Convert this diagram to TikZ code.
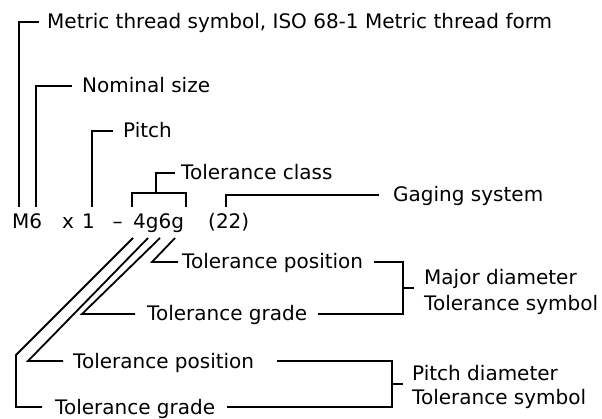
\documentclass[tikz,border=0pt]{standalone}
\usepackage{fontspec}
\setmainfont{DejaVu Sans}
\usetikzlibrary{positioning}

\begin{document}
\begin{tikzpicture}[
        x=1pt, y=-1pt,
        txt/.style={inner sep=0pt, anchor=west, text height=14pt, text depth=0pt,
            font=\fontsize{20}{24}\selectfont},
        lead/.style={line width=1.8pt, line cap=butt, line join=miter}
    ]
    \useasboundingbox (0,0) rectangle (602,419);

    % Callouts
    \node[txt] (metric) at (47,22) {Metric thread symbol, ISO 68-1 Metric thread form};
    \node[txt] (nominal) at (82,86) {Nominal size};
    \node[txt] (pitch) at (123,131) {Pitch};
    \node[txt] (tclass) at (181,173) {Tolerance class};
    \node[txt] (gaging) at (393,195) {Gaging system};

    % Designation
    \node[txt] (m6) at (12,222) {M6};
    \node[txt] (times) at (62,222) {x};
    \node[txt] (one) at (82,222) {1};
    \node[txt, anchor=center] (dash) at (117.5,222) {--};
    \node[txt] (tol) at (133,222) {4g6g};
    \node[txt] (gage) at (208,222) {(22)};

    % Tolerance parts
    \node[txt] (mpos) at (182,262) {Tolerance position};
    \node[txt] (mgrade) at (147,314) {Tolerance grade};
    \node[txt] (ppos) at (73,361) {Tolerance position};
    \node[txt] (pgrade) at (55,407) {Tolerance grade};
    \node[txt] (majora) at (424,278) {Major diameter};
    \node[txt, below right=11pt and 0pt of majora.south west] (majorb) {Tolerance symbol};
    \node[txt] (pitcha) at (412,373) {Pitch diameter};
    \node[txt, below right=10pt and 0pt of pitcha.south west] (pitchb) {Tolerance symbol};

    % Leader points
    \coordinate (cM) at (19,207);
    \coordinate (cN) at (36,207);
    \coordinate (cP) at (92,207);
    \coordinate (cTl) at (132,207);
    \coordinate (cTr) at (186,207);
    \coordinate (cTbar) at (156,193);
    \coordinate (cG) at (226,207);
    \coordinate (d1) at (133,238);
    \coordinate (d2) at (148,238);
    \coordinate (d3) at (160,238);
    \coordinate (d4) at (175,238);
    \coordinate (k1) at (16,355);
    \coordinate (k2) at (28,361);
    \coordinate (k3) at (82,314);
    \coordinate (k4) at (152,262);
    \coordinate (majbr) at (403,288);
    \coordinate (pitbr) at (392,384);

    % Leaders
    \draw[lead] (cM) |- ([xshift=-8pt]metric.west);
    \draw[lead] (cN) |- ([xshift=-10pt]nominal.west);
    \draw[lead] (cP) |- ([xshift=-10pt]pitch.west);
    \draw[lead] (cTl) -- (cTl |- cTbar) -- (cTr |- cTbar) -- (cTr);
    \draw[lead] (cTbar) |- ([xshift=-6pt]tclass.west);
    \draw[lead] (cG) |- ([xshift=-14pt]gaging.west);
    \draw[lead] (d4) -- (k4) -- ([xshift=-4pt]mpos.west);
    \draw[lead] (d3) -- (k3) -- ([xshift=-12pt]mgrade.west);
    \draw[lead] (d2) -- (k2) -- ([xshift=-10pt]ppos.west);
    \draw[lead] (d1) -- (k1) |- ([xshift=-13pt]pgrade.west);
    \draw[lead] ([xshift=11pt]mpos.east) -| (majbr) |- ([xshift=11pt]mgrade.east);
    \draw[lead] (majbr) -- ([xshift=-10pt]majbr -| majora.west);
    \draw[lead] ([xshift=23pt]ppos.east) -| (pitbr) |- ([xshift=12pt]pgrade.east);
    \draw[lead] (pitbr) -- ([xshift=-9pt]pitbr -| pitcha.west);
\end{tikzpicture}
\end{document}
